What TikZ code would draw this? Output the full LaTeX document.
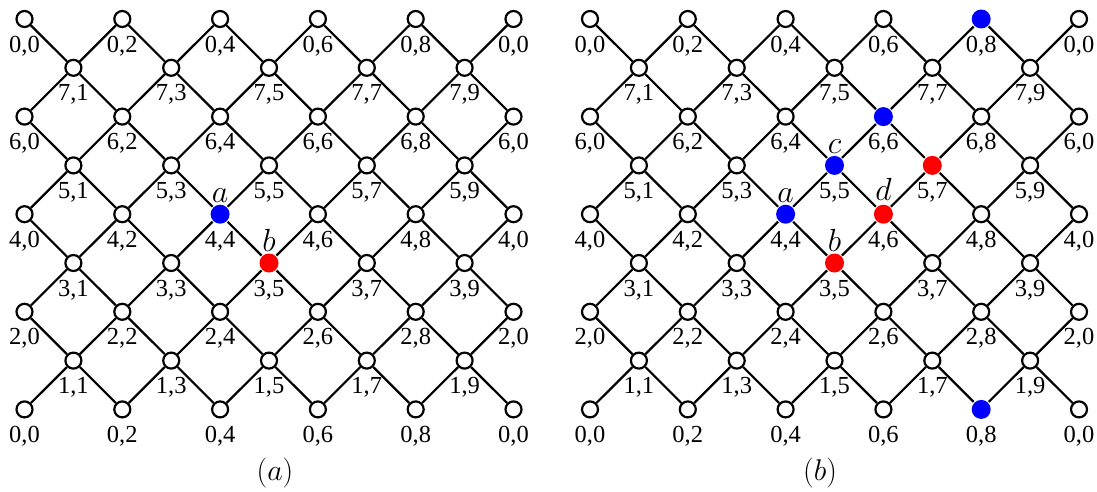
\RequirePackage{fix-cm}
\documentclass[tikz,border=0pt]{standalone}
\usepackage{fontspec}
\setmainfont{Liberation Serif}
\begin{document}
\begin{tikzpicture}[x=1pt,y=1pt,
  vtx/.style={circle,draw=black,fill=white,line width=2.2pt,minimum size=16pt,inner sep=0pt},
  bluevtx/.style={draw=none,fill=blue,minimum size=19pt},
  redvtx/.style={draw=none,fill=red,minimum size=19pt},
  coordlbl/.style={font=\fontsize{24.5}{28}\selectfont,inner sep=0pt,anchor=base},
  tag/.style={font=\fontsize{32}{36}\selectfont,inner sep=0pt,anchor=base},
  caption/.style={font=\fontsize{30}{34}\selectfont,inner sep=0pt,anchor=base},
  link/.style={line width=2.2pt},
  % highlighted vertices of the two lattices
  s-L-4-4/.style={bluevtx}, s-L-5-5/.style={redvtx},
  s-R-0-8/.style={bluevtx}, s-R-8-8/.style={bluevtx},
  s-R-2-6/.style={bluevtx}, s-R-3-5/.style={bluevtx},
  s-R-4-4/.style={bluevtx},
  s-R-3-7/.style={redvtx}, s-R-4-6/.style={redvtx},
  s-R-5-5/.style={redvtx}]
\useasboundingbox (0,0) rectangle (1097,-491);

% vertices with their (row,column) coordinates
\foreach \p/\xo in {L/24.5,R/590} {
  \foreach \r in {0,...,8} {
    \foreach \c in {0,...,10} {
      \pgfmathtruncatemacro\parity{mod(\r+\c,2)}
      \ifnum\parity=0
        \pgfmathtruncatemacro\fa{mod(8-\r,8)}
        \pgfmathtruncatemacro\sb{mod(\c,10)}
        \node[vtx,s-\p-\r-\c/.try] (\p-\r-\c) at (\xo+\c*48.9, -19-\r*48.8) {};
        \node[coordlbl] (\p-\r-\c-lbl) at ([yshift=-33pt]\p-\r-\c.center) {\fa,\sb};
      \fi
    }
  }
}

% diagonal links between neighbouring rows
\foreach \p in {L,R} {
  \foreach \r in {0,...,7} {
    \foreach \c in {0,...,10} {
      \pgfmathtruncatemacro\parity{mod(\r+\c,2)}
      \pgfmathtruncatemacro\rn{\r+1}
      \pgfmathtruncatemacro\cr{\c+1}
      \pgfmathtruncatemacro\cl{\c-1}
      \ifnum\parity=0
        \ifnum\c<10 \draw[link] (\p-\r-\c) -- (\p-\rn-\cr); \fi
        \ifnum\c>0 \draw[link] (\p-\r-\c) -- (\p-\rn-\cl); \fi
      \fi
    }
  }
}

% letter tags
\node[tag] (tagLa) at ([yshift=12pt]L-4-4.center) {$a$};
\node[tag] (tagLb) at ([yshift=12pt]L-5-5.center) {$b$};
\node[tag] (tagRa) at ([yshift=12pt]R-4-4.center) {$a$};
\node[tag] (tagRb) at ([yshift=12pt]R-5-5.center) {$b$};
\node[tag] (tagRc) at ([yshift=12pt]R-3-5.center) {$c$};
\node[tag] (tagRd) at ([yshift=14pt]R-4-6.center) {$d$};

% panel captions
\node[caption] (capA) at (275,-480) {$(a)$};
\node[caption] (capB) at (820,-480) {$(b)$};
\end{tikzpicture}
\end{document}
